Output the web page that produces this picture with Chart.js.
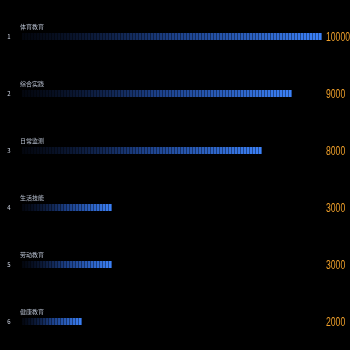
<!DOCTYPE html>
<html>
<head>
<meta charset="utf-8">
<script src="https://cdn.jsdelivr.net/npm/chart.js@4.4.0/dist/chart.umd.min.js"></script>
<style>
  html, body { margin: 0; padding: 0; background: #000; }
  #wrap { width: 350px; height: 350px; }
</style>
</head>
<body>
<div id="wrap"><canvas id="rankChart"></canvas></div>
<script>
// 排名数据
const categories = ['体育教育', '综合实践', '日常监测', '生活技能', '劳动教育', '健康教育'];
const values = [10000, 9000, 8000, 3000, 3000, 2000];
const ranks = ['1', '2', '3', '4', '5', '6'];
const maxValue = 10000;

// 每根柱子单独的渐变 + 分段条纹
const segmentBars = {
    id: 'segmentBars',
    afterDatasetsDraw(chart) {
        const ctx = chart.ctx;
        const meta = chart.getDatasetMeta(0);
        ctx.save();
        meta.data.forEach((bar, i) => {
            const x0 = bar.base;
            const x1 = bar.x;
            const h = bar.height;
            const top = bar.y - h / 2;
            const grad = ctx.createLinearGradient(x0, 0, x1, 0);
            grad.addColorStop(0, 'rgba(20, 40, 90, 0.15)');
            grad.addColorStop(0.5, 'rgba(35, 80, 170, 0.8)');
            grad.addColorStop(1, 'rgba(60, 130, 250, 1)');
            ctx.fillStyle = grad;
            ctx.fillRect(x0, top, x1 - x0, h);
            // 分段缝隙
            ctx.fillStyle = 'rgba(0, 0, 0, 0.4)';
            for (let x = x0 + 2; x < x1; x += 3) {
                ctx.fillRect(x, top, 1, h);
            }

            // 左侧序号
            ctx.fillStyle = '#cfd6e6';
            ctx.font = '6px "Noto Sans CJK SC", sans-serif';
            ctx.textAlign = 'center';
            ctx.textBaseline = 'middle';
            ctx.fillText(ranks[i], 9, bar.y);

            // 柱子上方名称
            ctx.textAlign = 'left';
            ctx.textBaseline = 'bottom';
            ctx.fillStyle = '#b8c0d0';
            ctx.fillText(categories[i], 20, top - 3);

            // 右侧数值（横向压窄）
            ctx.save();
            ctx.translate(chart.chartArea.right + 4, bar.y + 1);
            ctx.scale(0.72, 1);
            ctx.fillStyle = '#f0a02a';
            ctx.font = '12px "Liberation Sans", sans-serif';
            ctx.textAlign = 'left';
            ctx.textBaseline = 'middle';
            ctx.fillText(String(values[i]), 0, 0);
            ctx.restore();
        });
        ctx.restore();
    }
};

new Chart(document.getElementById('rankChart').getContext('2d'), {
    type: 'bar',
    data: {
        labels: categories,
        datasets: [{
            data: values,
            backgroundColor: 'rgba(0,0,0,0)',
            borderWidth: 0,
            barThickness: 7
        }]
    },
    options: {
        indexAxis: 'y',
        responsive: true,
        maintainAspectRatio: false,
        animation: false,
        layout: { padding: { left: 22, right: 28, top: 8, bottom: 0 } },
        scales: {
            x: { display: false, min: 0, max: maxValue },
            y: { display: false }
        },
        plugins: {
            legend: { display: false },
            tooltip: { enabled: false }
        }
    },
    plugins: [segmentBars]
});
</script>
</body>
</html>
